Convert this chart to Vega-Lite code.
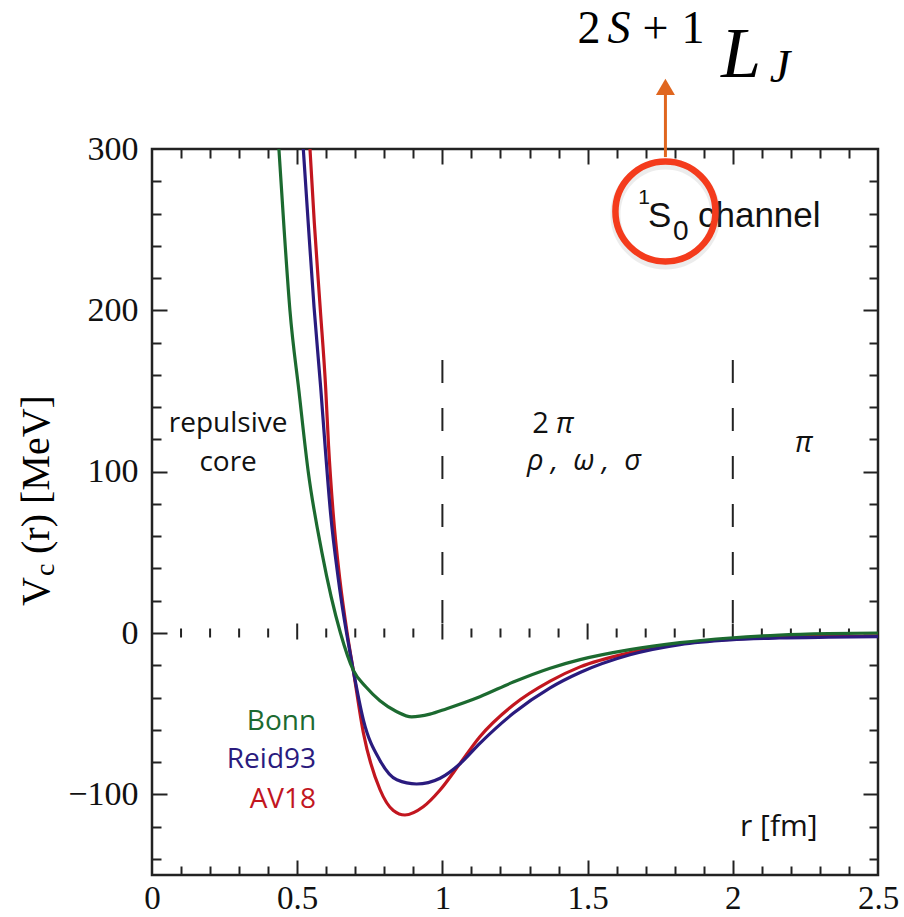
{
  "$schema": "https://vega.github.io/schema/vega-lite/v6.json",
  "width": 726,
  "height": 726,
  "autosize": {"type": "none"},
  "padding": {"left": 152, "top": 149, "right": 26, "bottom": 42},
  "background": "white",
  "config": {"view": {"stroke": "#222222", "strokeWidth": 2.5}},
  "datasets": {
    "curves": [
      {"model": "AV18", "r": 0.544, "V": 300},
      {"model": "AV18", "r": 0.559, "V": 254},
      {"model": "AV18", "r": 0.579, "V": 202},
      {"model": "AV18", "r": 0.598, "V": 152},
      {"model": "AV18", "r": 0.608, "V": 116},
      {"model": "AV18", "r": 0.624, "V": 74},
      {"model": "AV18", "r": 0.647, "V": 33},
      {"model": "AV18", "r": 0.672, "V": 0},
      {"model": "AV18", "r": 0.693, "V": -23},
      {"model": "AV18", "r": 0.728, "V": -62},
      {"model": "AV18", "r": 0.785, "V": -97},
      {"model": "AV18", "r": 0.831, "V": -110},
      {"model": "AV18", "r": 0.871, "V": -112.8},
      {"model": "AV18", "r": 0.934, "V": -107.7},
      {"model": "AV18", "r": 0.992, "V": -97.3},
      {"model": "AV18", "r": 1.061, "V": -80.8},
      {"model": "AV18", "r": 1.129, "V": -64.3},
      {"model": "AV18", "r": 1.244, "V": -44.6},
      {"model": "AV18", "r": 1.371, "V": -29.8},
      {"model": "AV18", "r": 1.474, "V": -21},
      {"model": "AV18", "r": 1.646, "V": -12.2},
      {"model": "AV18", "r": 1.818, "V": -6.6},
      {"model": "AV18", "r": 1.99, "V": -3.9},
      {"model": "AV18", "r": 2.16, "V": -2.6},
      {"model": "AV18", "r": 2.33, "V": -2.1},
      {"model": "AV18", "r": 2.5, "V": -1.9},
      {"model": "Reid93", "r": 0.521, "V": 300},
      {"model": "Reid93", "r": 0.538, "V": 254},
      {"model": "Reid93", "r": 0.558, "V": 202},
      {"model": "Reid93", "r": 0.581, "V": 152},
      {"model": "Reid93", "r": 0.596, "V": 116},
      {"model": "Reid93", "r": 0.615, "V": 74},
      {"model": "Reid93", "r": 0.642, "V": 33},
      {"model": "Reid93", "r": 0.693, "V": -23},
      {"model": "Reid93", "r": 0.728, "V": -54},
      {"model": "Reid93", "r": 0.785, "V": -79},
      {"model": "Reid93", "r": 0.843, "V": -91},
      {"model": "Reid93", "r": 0.911, "V": -93.6},
      {"model": "Reid93", "r": 0.992, "V": -90},
      {"model": "Reid93", "r": 1.061, "V": -81},
      {"model": "Reid93", "r": 1.129, "V": -68.4},
      {"model": "Reid93", "r": 1.244, "V": -49.8},
      {"model": "Reid93", "r": 1.371, "V": -34},
      {"model": "Reid93", "r": 1.474, "V": -24.5},
      {"model": "Reid93", "r": 1.646, "V": -13.5},
      {"model": "Reid93", "r": 1.818, "V": -7.2},
      {"model": "Reid93", "r": 1.99, "V": -4.3},
      {"model": "Reid93", "r": 2.16, "V": -3.1},
      {"model": "Reid93", "r": 2.33, "V": -2.6},
      {"model": "Reid93", "r": 2.5, "V": -2.3},
      {"model": "Bonn", "r": 0.437, "V": 300},
      {"model": "Bonn", "r": 0.455, "V": 250},
      {"model": "Bonn", "r": 0.475, "V": 200},
      {"model": "Bonn", "r": 0.506, "V": 150},
      {"model": "Bonn", "r": 0.538, "V": 100},
      {"model": "Bonn", "r": 0.585, "V": 50},
      {"model": "Bonn", "r": 0.649, "V": 0},
      {"model": "Bonn", "r": 0.693, "V": -23},
      {"model": "Bonn", "r": 0.737, "V": -33.5},
      {"model": "Bonn", "r": 0.785, "V": -42},
      {"model": "Bonn", "r": 0.843, "V": -48.8},
      {"model": "Bonn", "r": 0.894, "V": -52},
      {"model": "Bonn", "r": 0.957, "V": -50.3},
      {"model": "Bonn", "r": 1.015, "V": -46.9},
      {"model": "Bonn", "r": 1.129, "V": -39.5},
      {"model": "Bonn", "r": 1.244, "V": -30.4},
      {"model": "Bonn", "r": 1.371, "V": -21.8},
      {"model": "Bonn", "r": 1.474, "V": -16.5},
      {"model": "Bonn", "r": 1.646, "V": -10.3},
      {"model": "Bonn", "r": 1.818, "V": -6},
      {"model": "Bonn", "r": 1.99, "V": -3.1},
      {"model": "Bonn", "r": 2.16, "V": -1.3},
      {"model": "Bonn", "r": 2.33, "V": -0.4},
      {"model": "Bonn", "r": 2.5, "V": 0}
    ],
    "anchor": [{"r": 0, "V": 0}],
    "zeroMajor": [{"r": 0.5}, {"r": 1}, {"r": 1.5}, {"r": 2}],
    "zeroMinor": [{"r": 0.1}, {"r": 0.2}, {"r": 0.3}, {"r": 0.4}, {"r": 0.6}, {"r": 0.7}, {"r": 0.8}, {"r": 0.9}, {"r": 1.1}, {"r": 1.2}, {"r": 1.3}, {"r": 1.4}, {"r": 1.6}, {"r": 1.7}, {"r": 1.8}, {"r": 1.9}, {"r": 2.1}, {"r": 2.2}, {"r": 2.3}, {"r": 2.4}],
    "dashed": [{"r": 1}, {"r": 2}],
    "legend": [
      {"model": "Bonn", "r": 0.565, "V": -60.1},
      {"model": "Reid93", "r": 0.565, "V": -83.7},
      {"model": "AV18", "r": 0.565, "V": -108.5}
    ],
    "regions": [
      {"txt": "repulsive", "r": 0.262, "V": 124.6},
      {"txt": "core", "r": 0.262, "V": 100.4}
    ],
    "upright": [{"txt": "2", "r": 1.309, "V": 124.0}],
    "greek": [
      {"txt": "π", "r": 1.391, "V": 124.0},
      {"txt": "ρ\u00a0,\u00a0\u00a0ω\u00a0,\u00a0\u00a0σ", "r": 1.291, "V": 101.1},
      {"txt": "π", "r": 2.214, "V": 112.2}
    ],
    "rlabel": [{"txt": "r [fm]", "r": 2.025, "V": -125.9}],
    "chanSmall": [{"txt": "1", "r": 1.674, "V": 265.8}],
    "chanSub": [{"txt": "0", "r": 1.794, "V": 243.6}],
    "chanBig": [{"txt": "S", "r": 1.708, "V": 251.7}, {"txt": "channel", "r": 1.88, "V": 251.7}],
    "circle": [{"r": 1.768, "V": 261.3}],
    "arrow": [{"r": 1.768}],
    "arrowHead": [{"r": 1.768, "V": 338.5}],
    "formUp": [{"txt": "2", "r": 1.5048, "V": 365.5}, {"txt": "+", "r": 1.7338, "V": 365.5}, {"txt": "1", "r": 1.863, "V": 365.5}],
    "formIt": [{"txt": "S", "r": 1.6081, "V": 365.5}, {"txt": "J", "r": 2.1625, "V": 341.6}],
    "formL": [{"txt": "L", "r": 2.0282, "V": 344.7}],
    "ytitleBig": [{"txt": "V", "r": -0.355, "V": 16.7}, {"txt": "(r) [MeV]", "r": -0.355, "V": 49.0}],
    "ytitleSub": [{"txt": "c", "r": -0.3375, "V": 35.3}]
  },
  "layer": [
    {
      "data": {"name": "anchor"},
      "mark": {"type": "point", "opacity": 0},
      "encoding": {
        "x": {"field": "r", "type": "quantitative", "scale": {"domain": [0, 2.5], "nice": false, "zero": false},
          "axis": {"orient": "bottom", "values": [0, 0.5, 1, 1.5, 2, 2.5], "format": "~g", "ticks": false, "domain": false, "grid": false, "labelFont": "Liberation Serif", "labelFontSize": 33, "labelColor": "#111111", "labelPadding": 7, "labelFlush": false, "labelOverlap": false, "title": null}},
        "y": {"field": "V", "type": "quantitative", "scale": {"domain": [-150, 300], "nice": false, "zero": false},
          "axis": {"orient": "left", "values": [-100, 0, 100, 200, 300], "format": "d", "ticks": false, "domain": false, "grid": false, "labelFont": "Liberation Serif", "labelFontSize": 34, "labelColor": "#111111", "labelPadding": 14, "labelFlush": false, "labelOverlap": false, "title": null}}
      }
    },
    {
      "data": {"name": "anchor"},
      "mark": {"type": "point", "opacity": 0},
      "encoding": {
        "x": {"field": "r", "type": "quantitative", "scale": {"domain": [0, 2.5], "nice": false, "zero": false},
          "axis": {"orient": "bottom", "values": [0.5, 1, 1.5, 2], "labels": false, "domain": false, "grid": false, "tickSize": -15, "tickWidth": 2, "tickColor": "#222222", "title": null}},
        "y": {"field": "V", "type": "quantitative", "scale": {"domain": [-150, 300], "nice": false, "zero": false},
          "axis": {"orient": "left", "values": [-100, 0, 100, 200], "labels": false, "domain": false, "grid": false, "tickSize": -15, "tickWidth": 2, "tickColor": "#222222", "title": null}}
      }
    },
    {
      "data": {"name": "anchor"},
      "mark": {"type": "point", "opacity": 0},
      "encoding": {
        "x": {"field": "r", "type": "quantitative", "scale": {"domain": [0, 2.5], "nice": false, "zero": false},
          "axis": {"orient": "bottom", "values": [0.1, 0.2, 0.3, 0.4, 0.6, 0.7, 0.8, 0.9, 1.1, 1.2, 1.3, 1.4, 1.6, 1.7, 1.8, 1.9, 2.1, 2.2, 2.3, 2.4], "labels": false, "domain": false, "grid": false, "tickSize": -9, "tickWidth": 2, "tickColor": "#222222", "title": null}},
        "y": {"field": "V", "type": "quantitative", "scale": {"domain": [-150, 300], "nice": false, "zero": false},
          "axis": {"orient": "left", "values": [-140, -120, -80, -60, -40, -20, 20, 40, 60, 80, 120, 140, 160, 180, 220, 240, 260, 280], "labels": false, "domain": false, "grid": false, "tickSize": -9, "tickWidth": 2, "tickColor": "#222222", "title": null}}
      }
    },
    {
      "data": {"name": "anchor"},
      "mark": {"type": "point", "opacity": 0},
      "encoding": {
        "x": {"field": "r", "type": "quantitative", "scale": {"domain": [0, 2.5], "nice": false, "zero": false},
          "axis": {"orient": "top", "values": [0.5, 1, 1.5, 2], "labels": false, "domain": false, "grid": false, "tickSize": -15, "tickWidth": 2, "tickColor": "#222222", "title": null}},
        "y": {"field": "V", "type": "quantitative", "scale": {"domain": [-150, 300], "nice": false, "zero": false},
          "axis": {"orient": "right", "values": [-100, 0, 100, 200], "labels": false, "domain": false, "grid": false, "tickSize": -15, "tickWidth": 2, "tickColor": "#222222", "title": null}}
      }
    },
    {
      "data": {"name": "anchor"},
      "mark": {"type": "point", "opacity": 0},
      "encoding": {
        "x": {"field": "r", "type": "quantitative", "scale": {"domain": [0, 2.5], "nice": false, "zero": false},
          "axis": {"orient": "top", "values": [0.1, 0.2, 0.3, 0.4, 0.6, 0.7, 0.8, 0.9, 1.1, 1.2, 1.3, 1.4, 1.6, 1.7, 1.8, 1.9, 2.1, 2.2, 2.3, 2.4], "labels": false, "domain": false, "grid": false, "tickSize": -9, "tickWidth": 2, "tickColor": "#222222", "title": null}},
        "y": {"field": "V", "type": "quantitative", "scale": {"domain": [-150, 300], "nice": false, "zero": false},
          "axis": {"orient": "right", "values": [-140, -120, -80, -60, -40, -20, 20, 40, 60, 80, 120, 140, 160, 180, 220, 240, 260, 280], "labels": false, "domain": false, "grid": false, "tickSize": -9, "tickWidth": 2, "tickColor": "#222222", "title": null}}
      }
    },
    {
      "mark": {"type": "rule", "strokeWidth": 2, "color": "#222222"},
      "encoding": {
        "y": {"datum": 0, "type": "quantitative", "scale": {"domain": [-150, 300], "nice": false, "zero": false}, "axis": null}
      }
    },
    {
      "data": {"name": "zeroMajor"},
      "mark": {"type": "tick", "orient": "vertical", "size": 16, "thickness": 2, "color": "#222222", "opacity": 1, "yOffset": -1.5},
      "encoding": {
        "x": {"field": "r", "type": "quantitative", "scale": {"domain": [0, 2.5], "nice": false, "zero": false}, "axis": null},
        "y": {"datum": 0, "type": "quantitative", "scale": {"domain": [-150, 300], "nice": false, "zero": false}, "axis": null}
      }
    },
    {
      "data": {"name": "zeroMinor"},
      "mark": {"type": "tick", "orient": "vertical", "size": 9, "thickness": 2, "color": "#222222", "opacity": 1},
      "encoding": {
        "x": {"field": "r", "type": "quantitative", "scale": {"domain": [0, 2.5], "nice": false, "zero": false}, "axis": null},
        "y": {"datum": 0, "type": "quantitative", "scale": {"domain": [-150, 300], "nice": false, "zero": false}, "axis": null}
      }
    },
    {
      "data": {"name": "dashed"},
      "mark": {"type": "rule", "strokeWidth": 2, "color": "#222222", "strokeDash": [23, 25]},
      "encoding": {
        "x": {"field": "r", "type": "quantitative", "scale": {"domain": [0, 2.5], "nice": false, "zero": false}, "axis": null},
        "y": {"datum": 169.2, "type": "quantitative", "scale": {"domain": [-150, 300], "nice": false, "zero": false}, "axis": null},
        "y2": {"datum": 0}
      }
    },
    {
      "data": {"name": "curves"},
      "mark": {"type": "line", "strokeWidth": 3.2, "interpolate": "monotone", "clip": true},
      "encoding": {
        "x": {"field": "r", "type": "quantitative", "scale": {"domain": [0, 2.5], "nice": false, "zero": false}, "axis": null},
        "y": {"field": "V", "type": "quantitative", "scale": {"domain": [-150, 300], "nice": false, "zero": false}, "axis": null},
        "color": {"field": "model", "type": "nominal", "scale": {"domain": ["Bonn", "Reid93", "AV18"], "range": ["#1c6a30", "#2a1b7e", "#c2161f"]}, "legend": null}
      }
    },
    {
      "data": {"name": "legend"},
      "mark": {"type": "text", "align": "right", "baseline": "alphabetic", "font": "Open Sans", "fontSize": 28},
      "encoding": {
        "x": {"field": "r", "type": "quantitative", "scale": {"domain": [0, 2.5], "nice": false, "zero": false}, "axis": null},
        "y": {"field": "V", "type": "quantitative", "scale": {"domain": [-150, 300], "nice": false, "zero": false}, "axis": null},
        "text": {"field": "model"},
        "color": {"field": "model", "type": "nominal", "scale": {"domain": ["Bonn", "Reid93", "AV18"], "range": ["#1c6a30", "#2a1b7e", "#c2161f"]}, "legend": null}
      }
    },
    {
      "data": {"name": "regions"},
      "mark": {"type": "text", "align": "center", "baseline": "alphabetic", "font": "Open Sans", "fontSize": 28, "color": "#111111"},
      "encoding": {
        "x": {"field": "r", "type": "quantitative", "scale": {"domain": [0, 2.5], "nice": false, "zero": false}, "axis": null},
        "y": {"field": "V", "type": "quantitative", "scale": {"domain": [-150, 300], "nice": false, "zero": false}, "axis": null},
        "text": {"field": "txt"}
      }
    },
    {
      "data": {"name": "upright"},
      "mark": {"type": "text", "align": "left", "baseline": "alphabetic", "font": "Open Sans", "fontSize": 29, "color": "#111111"},
      "encoding": {
        "x": {"field": "r", "type": "quantitative", "scale": {"domain": [0, 2.5], "nice": false, "zero": false}, "axis": null},
        "y": {"field": "V", "type": "quantitative", "scale": {"domain": [-150, 300], "nice": false, "zero": false}, "axis": null},
        "text": {"field": "txt"}
      }
    },
    {
      "data": {"name": "greek"},
      "mark": {"type": "text", "align": "left", "baseline": "alphabetic", "font": "Open Sans", "fontStyle": "italic", "fontSize": 29, "color": "#111111"},
      "encoding": {
        "x": {"field": "r", "type": "quantitative", "scale": {"domain": [0, 2.5], "nice": false, "zero": false}, "axis": null},
        "y": {"field": "V", "type": "quantitative", "scale": {"domain": [-150, 300], "nice": false, "zero": false}, "axis": null},
        "text": {"field": "txt"}
      }
    },
    {
      "data": {"name": "rlabel"},
      "mark": {"type": "text", "align": "left", "baseline": "alphabetic", "font": "Open Sans", "fontSize": 30, "color": "#111111"},
      "encoding": {
        "x": {"field": "r", "type": "quantitative", "scale": {"domain": [0, 2.5], "nice": false, "zero": false}, "axis": null},
        "y": {"field": "V", "type": "quantitative", "scale": {"domain": [-150, 300], "nice": false, "zero": false}, "axis": null},
        "text": {"field": "txt"}
      }
    },
    {
      "data": {"name": "chanSmall"},
      "mark": {"type": "text", "align": "left", "baseline": "alphabetic", "font": "Liberation Sans", "fontSize": 21, "color": "#111111"},
      "encoding": {
        "x": {"field": "r", "type": "quantitative", "scale": {"domain": [0, 2.5], "nice": false, "zero": false}, "axis": null},
        "y": {"field": "V", "type": "quantitative", "scale": {"domain": [-150, 300], "nice": false, "zero": false}, "axis": null},
        "text": {"field": "txt"}
      }
    },
    {
      "data": {"name": "chanSub"},
      "mark": {"type": "text", "align": "left", "baseline": "alphabetic", "font": "Liberation Sans", "fontSize": 28, "color": "#111111"},
      "encoding": {
        "x": {"field": "r", "type": "quantitative", "scale": {"domain": [0, 2.5], "nice": false, "zero": false}, "axis": null},
        "y": {"field": "V", "type": "quantitative", "scale": {"domain": [-150, 300], "nice": false, "zero": false}, "axis": null},
        "text": {"field": "txt"}
      }
    },
    {
      "data": {"name": "chanBig"},
      "mark": {"type": "text", "align": "left", "baseline": "alphabetic", "font": "Liberation Sans", "fontSize": 35, "color": "#111111"},
      "encoding": {
        "x": {"field": "r", "type": "quantitative", "scale": {"domain": [0, 2.5], "nice": false, "zero": false}, "axis": null},
        "y": {"field": "V", "type": "quantitative", "scale": {"domain": [-150, 300], "nice": false, "zero": false}, "axis": null},
        "text": {"field": "txt"}
      }
    },
    {
      "data": {"name": "circle"},
      "mark": {"type": "point", "shape": "circle", "filled": false, "size": 10000, "strokeWidth": 10, "color": "#9a9a9a", "opacity": 0.18, "yOffset": 3},
      "encoding": {
        "x": {"field": "r", "type": "quantitative", "scale": {"domain": [0, 2.5], "nice": false, "zero": false}, "axis": null},
        "y": {"field": "V", "type": "quantitative", "scale": {"domain": [-150, 300], "nice": false, "zero": false}, "axis": null}
      }
    },
    {
      "data": {"name": "circle"},
      "mark": {"type": "point", "shape": "circle", "filled": false, "size": 10000, "strokeWidth": 6.5, "color": "#f43b1c", "opacity": 1},
      "encoding": {
        "x": {"field": "r", "type": "quantitative", "scale": {"domain": [0, 2.5], "nice": false, "zero": false}, "axis": null},
        "y": {"field": "V", "type": "quantitative", "scale": {"domain": [-150, 300], "nice": false, "zero": false}, "axis": null}
      }
    },
    {
      "data": {"name": "arrow"},
      "mark": {"type": "rule", "strokeWidth": 3, "color": "#e0661f"},
      "encoding": {
        "x": {"field": "r", "type": "quantitative", "scale": {"domain": [0, 2.5], "nice": false, "zero": false}, "axis": null},
        "y": {"datum": 295, "type": "quantitative", "scale": {"domain": [-150, 300], "nice": false, "zero": false}, "axis": null},
        "y2": {"datum": 334}
      }
    },
    {
      "data": {"name": "arrowHead"},
      "mark": {"type": "point", "shape": "triangle-up", "filled": true, "size": 360, "color": "#e0661f", "opacity": 1},
      "encoding": {
        "x": {"field": "r", "type": "quantitative", "scale": {"domain": [0, 2.5], "nice": false, "zero": false}, "axis": null},
        "y": {"field": "V", "type": "quantitative", "scale": {"domain": [-150, 300], "nice": false, "zero": false}, "axis": null}
      }
    },
    {
      "data": {"name": "formUp"},
      "mark": {"type": "text", "align": "center", "baseline": "alphabetic", "font": "Liberation Serif", "fontSize": 46, "color": "#000000"},
      "encoding": {
        "x": {"field": "r", "type": "quantitative", "scale": {"domain": [0, 2.5], "nice": false, "zero": false}, "axis": null},
        "y": {"field": "V", "type": "quantitative", "scale": {"domain": [-150, 300], "nice": false, "zero": false}, "axis": null},
        "text": {"field": "txt"}
      }
    },
    {
      "data": {"name": "formIt"},
      "mark": {"type": "text", "align": "center", "baseline": "alphabetic", "font": "Liberation Serif", "fontStyle": "italic", "fontSize": 46, "color": "#000000"},
      "encoding": {
        "x": {"field": "r", "type": "quantitative", "scale": {"domain": [0, 2.5], "nice": false, "zero": false}, "axis": null},
        "y": {"field": "V", "type": "quantitative", "scale": {"domain": [-150, 300], "nice": false, "zero": false}, "axis": null},
        "text": {"field": "txt"}
      }
    },
    {
      "data": {"name": "formL"},
      "mark": {"type": "text", "align": "center", "baseline": "alphabetic", "font": "Liberation Serif", "fontStyle": "italic", "fontSize": 72, "color": "#000000"},
      "encoding": {
        "x": {"field": "r", "type": "quantitative", "scale": {"domain": [0, 2.5], "nice": false, "zero": false}, "axis": null},
        "y": {"field": "V", "type": "quantitative", "scale": {"domain": [-150, 300], "nice": false, "zero": false}, "axis": null},
        "text": {"field": "txt"}
      }
    },
    {
      "data": {"name": "ytitleBig"},
      "mark": {"type": "text", "align": "left", "baseline": "alphabetic", "angle": 270, "font": "Liberation Serif", "fontSize": 40, "color": "#000000"},
      "encoding": {
        "x": {"field": "r", "type": "quantitative", "scale": {"domain": [0, 2.5], "nice": false, "zero": false}, "axis": null},
        "y": {"field": "V", "type": "quantitative", "scale": {"domain": [-150, 300], "nice": false, "zero": false}, "axis": null},
        "text": {"field": "txt"}
      }
    },
    {
      "data": {"name": "ytitleSub"},
      "mark": {"type": "text", "align": "left", "baseline": "alphabetic", "angle": 270, "font": "Liberation Serif", "fontSize": 28, "color": "#000000"},
      "encoding": {
        "x": {"field": "r", "type": "quantitative", "scale": {"domain": [0, 2.5], "nice": false, "zero": false}, "axis": null},
        "y": {"field": "V", "type": "quantitative", "scale": {"domain": [-150, 300], "nice": false, "zero": false}, "axis": null},
        "text": {"field": "txt"}
      }
    }
  ],
  "resolve": {"axis": {"x": "independent", "y": "independent"}}
}
